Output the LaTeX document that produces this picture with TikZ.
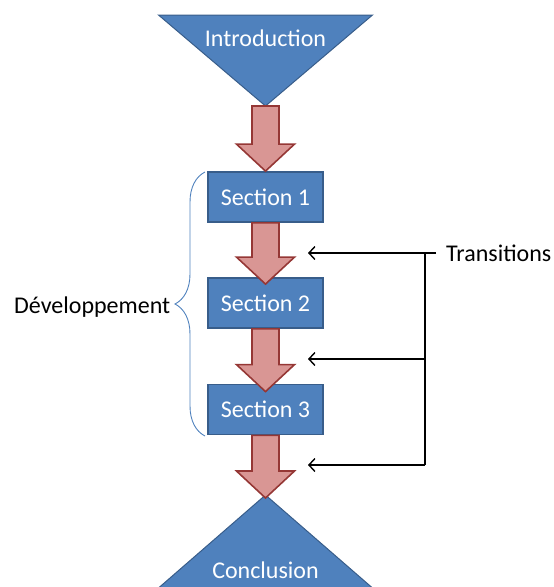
\documentclass[tikz,border=0pt]{standalone}
\usepackage{fontspec}
\setmainfont{Carlito}
\usetikzlibrary{calc,arrows.meta,decorations.pathreplacing}

\definecolor{partblue}{RGB}{79,129,189}
\definecolor{partborder}{RGB}{56,93,138}
\definecolor{arrowfill}{RGB}{217,150,148}
\definecolor{arrowborder}{RGB}{149,55,53}

\tikzset{
  part/.style={draw=partborder, line width=1pt, fill=partblue},
  section/.style={draw=partborder, line width=1.8pt, fill=partblue, minimum width=115pt, minimum height=50pt, inner sep=0pt, text=white, font=\fontsize{24}{28}\selectfont},
  partlabel/.style={text=white, font=\fontsize{24}{28}\selectfont},
  sidelabel/.style={text=black, font=\fontsize{24}{28}\selectfont},
  blockarrow/.style={draw=arrowborder, line width=1.6pt, fill=arrowfill, line join=miter},
  transline/.style={draw=black, line width=1.4pt},
}

\begin{document}
\begin{tikzpicture}[x=1pt,y=1pt,yscale=-1]
\useasboundingbox (0,0) rectangle (554,587);

%Shape: Triangle
\draw[part] (158.5,15) -- (372.5,15) -- (265.5,106) -- cycle;
\coordinate (introtip) at (265.5,106);
% Text Node
\node[partlabel] (intro) at (265.5,38) {Introduction};

%Shape: Triangle
\draw[part] (265.5,495) -- (372.5,588) -- (158.5,588) -- cycle;
\coordinate (conctip) at (265.5,495);
% Text Node
\node[partlabel] (concl) at (265.5,570) {Conclusion};

% Sections
\node[section] (s1) at (265.5,197) {Section 1};
\node[section] (s2) at (265.5,303) {Section 2};
\node[section] (s3) at (265.5,409.5) {Section 3};

%Block Arrows
\foreach \a/\b/\o in {introtip/s1.north/0, s1.south/s2.north/7, s2.south/s3.north/8, s3.south/conctip/3}{
  \coordinate (tip) at ($(\b)+(0,\o)$);
  \draw[blockarrow] ($(\a)+(-13.5,0)$) -- ($(tip)+(-13.5,-27)$) -- ($(tip)+(-29,-27)$) -- (tip)
    -- ($(tip)+(29,-27)$) -- ($(tip)+(13.5,-27)$) -- ($(\a)+(13.5,0)$) -- cycle;
}

%Brace
\draw[partblue, line width=0.9pt, decorate, decoration={brace, amplitude=30pt}]
  (205,436) -- (205,172) node[midway, left=31pt, yshift=-3pt, sidelabel] (dev) {Développement};

% Transitions
\node[sidelabel, anchor=west, inner xsep=10pt] (trans) at (436,253) {Transitions};
\coordinate (tr1) at (308,253);
\coordinate (tr2) at (308,359);
\coordinate (tr3) at (308,465);
\coordinate (fork) at (425,253);
\draw[transline] (trans.west) -- (fork) -- (fork |- tr3);
\foreach \t in {tr1,tr2,tr3}
  \draw[transline, -{Straight Barb[length=6pt,width=13pt]}] (fork |- \t) -- (\t);

\end{tikzpicture}
\end{document}
